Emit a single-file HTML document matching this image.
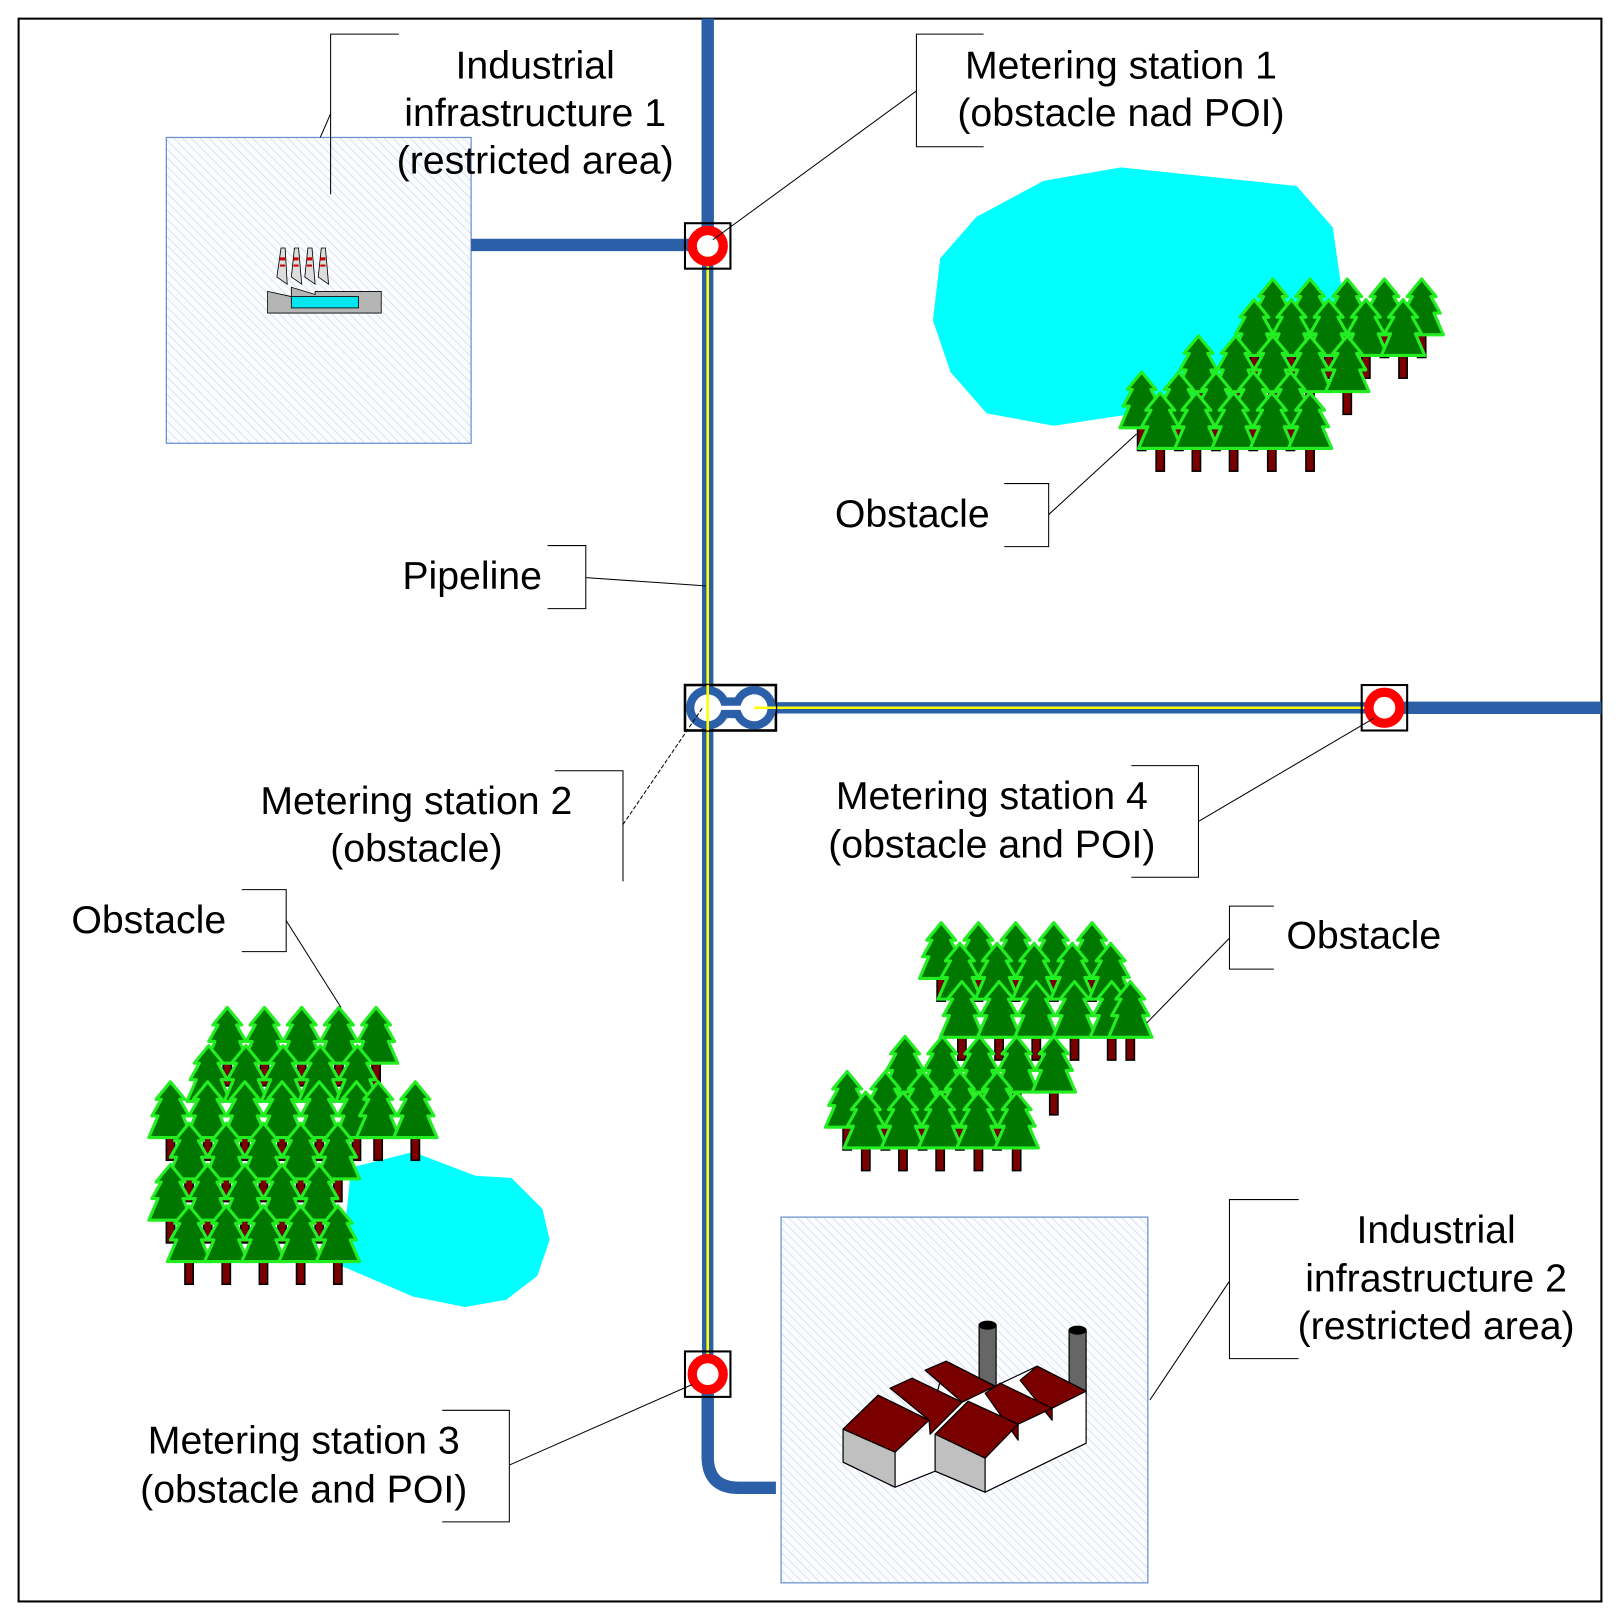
<!DOCTYPE html>
<html><head><meta charset="utf-8"><style>html,body{margin:0;padding:0;background:#fff}svg{display:block}</style></head>
<body>
<svg width="1620" height="1617" viewBox="0 0 1568 1565" xmlns="http://www.w3.org/2000/svg" font-family="Liberation Sans, sans-serif">
<defs>
<pattern id="hatch" width="6" height="6" patternUnits="userSpaceOnUse" patternTransform="rotate(-45)">
<rect width="6" height="6" fill="#fbfcff"/><line x1="0" y1="0" x2="0" y2="6" stroke="#c8d3e8" stroke-width="1.2"/>
</pattern>
<g id="tree">
<rect x="-4" y="52" width="8" height="24" fill="#7a0000" stroke="#000" stroke-width="1.5"/>
<path d="M0,0 L14,17 L9,17 L18,33 L12,33 L21,54 L-21,54 L-12,33 L-18,33 L-9,17 L-14,17 Z" fill="#007800" stroke="#22ee22" stroke-width="3" stroke-linejoin="round"/>
</g>
</defs>
<rect x="18" y="18" width="1532" height="1532" fill="#fff" stroke="#000" stroke-width="2"/>

<rect x="161" y="133" width="295" height="296" fill="url(#hatch)" stroke="#6a8fd0" stroke-width="1.2"/>
<rect x="756" y="1178" width="355" height="354" fill="url(#hatch)" stroke="#6a8fd0" stroke-width="1.2"/>

<polygon points="1010,175 1085,162 1255,180 1290,220 1300,290 1200,390 1100,400 1020,412 955,400 920,360 903,310 910,250 945,210" fill="#00ffff"/>
<polygon points="340,1130 400,1115 460,1138 495,1140 525,1170 532,1200 520,1235 490,1258 450,1265 400,1255 330,1225" fill="#00ffff"/>

<g fill="none" stroke="#2b5fa8" stroke-width="12">
<line x1="685" y1="18" x2="685" y2="240"/>
<line x1="456" y1="237" x2="685" y2="237"/>
<path d="M685,1330 L685,1410 Q685,1440 715,1440 L751,1440"/>
<line x1="1340" y1="685" x2="1550" y2="685"/>
</g>
<g fill="none" stroke="#2b5fa8" stroke-width="11">
<line x1="685" y1="238" x2="685" y2="1330"/>
<line x1="685" y1="685" x2="1340" y2="685"/>
</g>
<g fill="none" stroke="#ffff00" stroke-width="2.5">
<line x1="685" y1="238" x2="685" y2="1330"/>
<line x1="730" y1="685" x2="1340" y2="685"/>
</g>

<g>
<rect x="663" y="216" width="44" height="44" fill="none" stroke="#000" stroke-width="2"/>
<circle cx="685" cy="238" r="15" fill="#fff" stroke="#ff0000" stroke-width="9"/>
<rect x="1318" y="663" width="44" height="44" fill="none" stroke="#000" stroke-width="2"/>
<circle cx="1340" cy="685" r="15" fill="#fff" stroke="#ff0000" stroke-width="9"/>
<rect x="663" y="1308" width="44" height="44" fill="none" stroke="#000" stroke-width="2"/>
<circle cx="685" cy="1330" r="15" fill="#fff" stroke="#ff0000" stroke-width="9"/>
<rect x="663" y="663" width="88" height="44" fill="none" stroke="#000" stroke-width="2.5"/>
<path d="M685,668 A17,17 0 0 1 701,679 L714,679 A17,17 0 1 1 714,691 L701,691 A17,17 0 1 1 685,668 Z" fill="#fff" stroke="#2b5fa8" stroke-width="8"/>
<line x1="685" y1="663" x2="685" y2="707" stroke="#ffff00" stroke-width="2.5"/>
<line x1="730" y1="685" x2="751" y2="685" stroke="#ffff00" stroke-width="2.5"/>
</g>

<g stroke="#000" stroke-width="0.8">
<polygon points="268,268 272,240 276,240 278,275" fill="#ddd"/>
<polygon points="282,268 285,240 289,240 292,275" fill="#ddd"/>
<polygon points="295,268 298,240 302,240 305,275" fill="#ddd"/>
<polygon points="308,268 311,240 315,240 318,275" fill="#ddd"/>
<g fill="#d00000" stroke="none"><rect x="271" y="249" width="5" height="3"/><rect x="284" y="249" width="5" height="3"/><rect x="297" y="249" width="5" height="3"/><rect x="310" y="249" width="5" height="3"/><rect x="271" y="256" width="5" height="2"/><rect x="284" y="256" width="5" height="2"/><rect x="297" y="256" width="5" height="2"/><rect x="310" y="256" width="5" height="2"/></g>
<polygon points="259,282 282,287 282,278 305,285 305,282 369,282 369,303 259,303" fill="#b5b5b5"/>
<rect x="282" y="287" width="65" height="11" fill="#00e5ee"/>
</g>

<g transform="scale(0.968)" stroke="#000" stroke-width="1.2" stroke-linejoin="round">
<rect x="979" y="1325" width="17" height="64" fill="#666"/><ellipse cx="987.5" cy="1325" rx="8.5" ry="4" fill="#000"/>
<rect x="1069" y="1330" width="17" height="64" fill="#666"/><ellipse cx="1077.5" cy="1330" rx="8.5" ry="4" fill="#000"/>
<polygon points="843,1429 878,1395 929,1420 946,1361 995,1386 1037,1366 1086,1391 1086,1443 985,1492 935,1471 895,1487 843,1462" fill="#fff"/>
<polygon points="925,1370 946,1361 995,1386 962,1402" fill="#7a0000"/>
<polygon points="890,1388 912,1378 962,1402 930,1434 929,1420" fill="#7a0000"/>
<polygon points="843,1429 878,1395 929,1420 895,1452" fill="#7a0000"/>
<polygon points="843,1429 895,1452 895,1487 843,1462" fill="#c0c0c0"/>
<polygon points="1020,1380 1037,1366 1086,1391 1052,1408 1052,1420" fill="#7a0000"/>
<polygon points="985,1393 1000,1383 1052,1408 1018,1424 1018,1440" fill="#7a0000"/>
<polygon points="935,1434 968,1401 1018,1424 985,1458" fill="#7a0000"/>
<polygon points="935,1434 985,1458 985,1492 935,1471" fill="#c0c0c0"/>
</g>

<g>
<use href="#tree" x="1232" y="270"/><use href="#tree" x="1268" y="270"/><use href="#tree" x="1304" y="270"/><use href="#tree" x="1340" y="270"/><use href="#tree" x="1376" y="270"/>
<use href="#tree" x="1214" y="290"/><use href="#tree" x="1250" y="290"/><use href="#tree" x="1286" y="290"/><use href="#tree" x="1322" y="290"/><use href="#tree" x="1358" y="290"/>
<use href="#tree" x="1160" y="325"/><use href="#tree" x="1196" y="325"/><use href="#tree" x="1232" y="325"/><use href="#tree" x="1268" y="325"/><use href="#tree" x="1304" y="325"/>
<use href="#tree" x="1105" y="360"/><use href="#tree" x="1141" y="360"/><use href="#tree" x="1177" y="360"/><use href="#tree" x="1213" y="360"/><use href="#tree" x="1249" y="360"/>
<use href="#tree" x="1123" y="380"/><use href="#tree" x="1158" y="380"/><use href="#tree" x="1194" y="380"/><use href="#tree" x="1231" y="380"/><use href="#tree" x="1268" y="380"/>

<use href="#tree" x="220" y="975"/><use href="#tree" x="256" y="975"/><use href="#tree" x="292" y="975"/><use href="#tree" x="328" y="975"/><use href="#tree" x="364" y="975"/>
<use href="#tree" x="202" y="1012"/><use href="#tree" x="238" y="1012"/><use href="#tree" x="274" y="1012"/><use href="#tree" x="310" y="1012"/><use href="#tree" x="346" y="1012"/>
<use href="#tree" x="165" y="1047"/><use href="#tree" x="201" y="1047"/><use href="#tree" x="237" y="1047"/><use href="#tree" x="273" y="1047"/><use href="#tree" x="309" y="1047"/><use href="#tree" x="345" y="1047"/><use href="#tree" x="366" y="1047"/><use href="#tree" x="402" y="1047"/>
<use href="#tree" x="183" y="1087"/><use href="#tree" x="219" y="1087"/><use href="#tree" x="255" y="1087"/><use href="#tree" x="291" y="1087"/><use href="#tree" x="327" y="1087"/>
<use href="#tree" x="165" y="1127"/><use href="#tree" x="201" y="1127"/><use href="#tree" x="237" y="1127"/><use href="#tree" x="273" y="1127"/><use href="#tree" x="309" y="1127"/>
<use href="#tree" x="183" y="1167"/><use href="#tree" x="219" y="1167"/><use href="#tree" x="255" y="1167"/><use href="#tree" x="291" y="1167"/><use href="#tree" x="327" y="1167"/>

<use href="#tree" x="911" y="893"/><use href="#tree" x="947" y="893"/><use href="#tree" x="983" y="893"/><use href="#tree" x="1020" y="893"/><use href="#tree" x="1057" y="893"/>
<use href="#tree" x="929" y="913"/><use href="#tree" x="965" y="913"/><use href="#tree" x="1001" y="913"/><use href="#tree" x="1038" y="913"/><use href="#tree" x="1075" y="913"/>
<use href="#tree" x="931" y="950"/><use href="#tree" x="967" y="950"/><use href="#tree" x="1003" y="950"/><use href="#tree" x="1040" y="950"/><use href="#tree" x="1076" y="950"/><use href="#tree" x="1094" y="950"/>
<use href="#tree" x="876" y="1003"/><use href="#tree" x="912" y="1003"/><use href="#tree" x="948" y="1003"/><use href="#tree" x="984" y="1003"/><use href="#tree" x="1020" y="1003"/>
<use href="#tree" x="820" y="1037"/><use href="#tree" x="857" y="1037"/><use href="#tree" x="893" y="1037"/><use href="#tree" x="929" y="1037"/><use href="#tree" x="965" y="1037"/>
<use href="#tree" x="838" y="1057"/><use href="#tree" x="874" y="1057"/><use href="#tree" x="910" y="1057"/><use href="#tree" x="947" y="1057"/><use href="#tree" x="984" y="1057"/>
</g>

<g fill="none" stroke="#000" stroke-width="1">
<path d="M386,33 H320 V188"/><line x1="320" y1="110" x2="310" y2="133"/>
<path d="M952,33 H887 V142 H952"/><line x1="887" y1="88" x2="690" y2="232"/>
<path d="M972,468 H1015 V529 H972"/><line x1="1015" y1="498" x2="1100" y2="420"/>
<path d="M530,528 H567 V589 H530"/><line x1="567" y1="559" x2="683" y2="567"/>
<path d="M537,746 H603 V853"/><line x1="603" y1="798" x2="680" y2="685" stroke-dasharray="4,2"/>
<path d="M1095,741 H1160 V849 H1095"/><line x1="1160" y1="795" x2="1330" y2="695"/>
<path d="M234,861 H277 V921 H234"/><line x1="277" y1="891" x2="330" y2="975"/>
<path d="M1233,877 H1190 V938 H1233"/><line x1="1190" y1="908" x2="1110" y2="990"/>
<path d="M1257,1161 H1190 V1315 H1257"/><line x1="1190" y1="1240" x2="1113" y2="1355"/>
<path d="M428,1365 H493 V1473 H428"/><line x1="493" y1="1418" x2="670" y2="1340"/>
</g>

<g font-size="38" fill="#000" text-anchor="middle">
<text x="518" y="76">Industrial</text><text x="518" y="122">infrastructure 1</text><text x="518" y="168">(restricted area)</text>
<text x="1085" y="76">Metering station 1</text><text x="1085" y="122">(obstacle nad POI)</text>
<text x="883" y="510">Obstacle</text>
<text x="457" y="570">Pipeline</text>
<text x="403" y="788">Metering station 2</text><text x="403" y="834">(obstacle)</text>
<text x="960" y="783">Metering station 4</text><text x="960" y="830">(obstacle and POI)</text>
<text x="144" y="903">Obstacle</text>
<text x="1320" y="918">Obstacle</text>
<text x="1390" y="1203">Industrial</text><text x="1390" y="1250">infrastructure 2</text><text x="1390" y="1296">(restricted area)</text>
<text x="294" y="1407">Metering station 3</text><text x="294" y="1454">(obstacle and POI)</text>
</g>
</svg>
</body></html>
